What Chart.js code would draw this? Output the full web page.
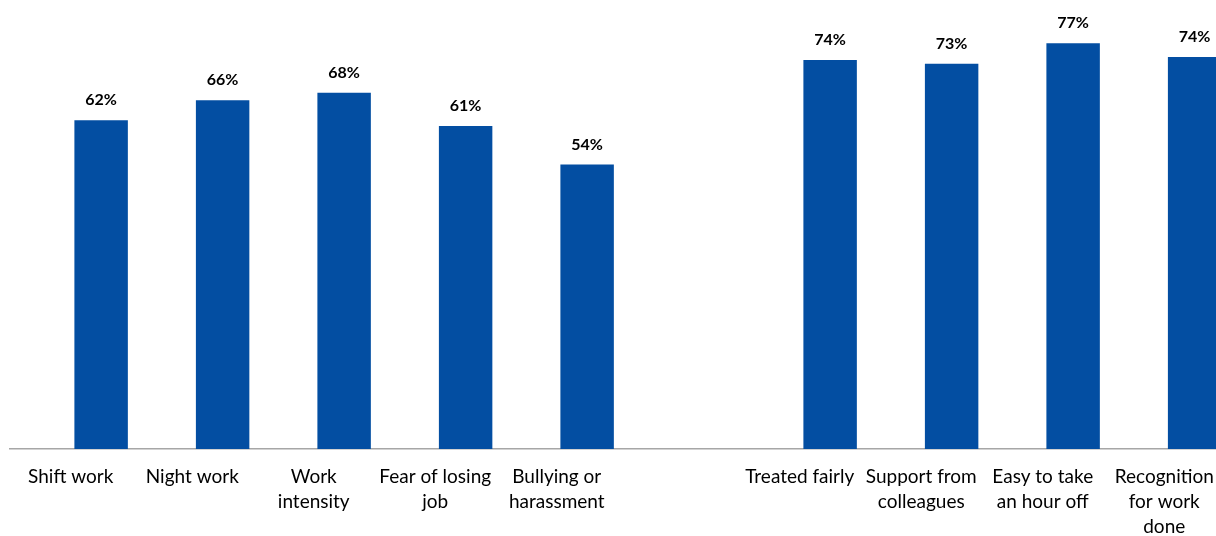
<!DOCTYPE html>
<html>
<head>
<meta charset="utf-8">
<script src="https://cdn.jsdelivr.net/npm/chart.js@4/dist/chart.umd.min.js"></script>
<style>
  html, body { margin: 0; padding: 0; background: #fff; overflow: hidden; }
  #wrap { width: 1232px; height: 536px; }
</style>
</head>
<body>
<div id="wrap"><canvas id="grafico"></canvas></div>
<script>
// categorias (vazia = espaço entre os dois grupos)
const categorias = [
    "Shift work", "Night work", ["Work", "intensity"], ["Fear of losing", "job"], ["Bullying or", "harassment"],
    "",
    "Treated fairly", ["Support from", "colleagues"], ["Easy to take", "an hour off"], ["Recognition", "for work", "done"]
];
const valores = [62.4, 66.2, 67.6, 61.3, 54, null, 73.8, 73.1, 77, 74.4];
const vazio = categorias.map(() => null);

const corBarra = "#034ea2";
const fonte = "Lato, 'Open Sans', sans-serif";

// rótulos de porcentagem acima das barras
const rotulosPlugin = {
    id: "rotulos",
    afterDatasetsDraw(chart) {
        const ctx = chart.ctx;
        const meta = chart.getDatasetMeta(1);
        ctx.save();
        ctx.font = "bold 16px " + fonte;
        ctx.fillStyle = "#000";
        ctx.textAlign = "center";
        ctx.textBaseline = "middle";
        meta.data.forEach((bar, i) => {
            if (valores[i] == null) return;
            ctx.fillText(Math.round(valores[i]) + "%", bar.x, bar.y - 20);
        });
        ctx.restore();
    }
};

new Chart(document.getElementById("grafico"), {
    type: "bar",
    data: {
        labels: categorias,
        datasets: [
            { label: "", data: vazio, backgroundColor: "transparent" },
            { label: "Percentual", data: valores, backgroundColor: corBarra }
        ]
    },
    options: {
        responsive: true,
        maintainAspectRatio: false,
        animation: false,
        categoryPercentage: 1.0,
        barPercentage: 0.88,
        layout: { padding: { left: 10, right: 7, top: 0, bottom: 0 } },
        plugins: { legend: { display: false }, tooltip: { enabled: false } },
        scales: {
            x: {
                grid: { display: false, drawTicks: false },
                border: { display: true, color: "#a6a6a6", width: 1.5 },
                ticks: {
                    color: "#000",
                    font: { family: fonte, size: 19, lineHeight: 1.32 },
                    padding: 15,
                    maxRotation: 0,
                    autoSkip: false
                },
                afterFit: s => { s.height = 87; }
            },
            y: {
                display: false,
                min: 0,
                max: 85.2
            }
        }
    },
    plugins: [rotulosPlugin]
});
</script>
</body>
</html>
